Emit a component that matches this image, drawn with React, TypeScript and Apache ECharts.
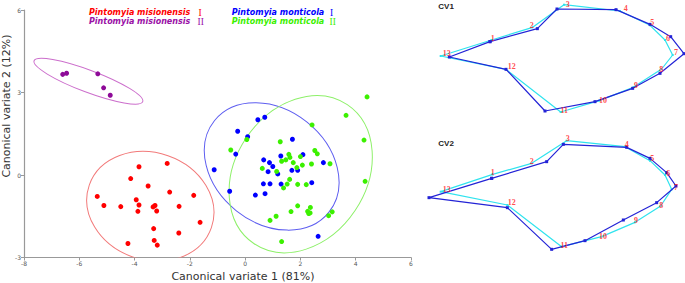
import React, { useEffect, useRef } from 'react';
import * as echarts from 'echarts';

// ---- Scatter data (canonical variate 1, canonical variate 2) ----
const redPoints = [
  [-3.84, 0.30], [-2.82, 0.42], [-4.14, -0.13], [-3.51, -0.40], [-2.73, -0.62],
  [-5.35, -0.78], [-1.86, -0.74], [-3.94, -0.90], [-5.11, -1.11], [-4.50, -1.15],
  [-3.84, -1.09], [-3.33, -1.16], [-3.26, -1.11], [-3.88, -1.32], [-3.20, -1.31],
  [-2.39, -1.14], [-1.63, -1.72], [-3.31, -1.95], [-2.40, -2.11], [-4.24, -2.49],
  [-3.29, -2.38], [-3.18, -2.55],
];
const purplePoints = [
  [-6.60, 3.66], [-6.46, 3.70], [-5.33, 3.68], [-5.12, 3.17], [-4.88, 2.90],
];
const bluePoints = [
  [0.46, 2.01], [0.71, 2.10], [-0.27, 1.59], [0.09, 1.39], [1.71, 1.30],
  [-0.34, 0.76], [2.09, 0.74], [1.29, 0.69], [0.67, 0.55], [0.88, 0.45],
  [2.83, 0.45], [-1.12, 0.19], [1.00, 0.31], [0.83, 0.12], [1.18, 0.04],
  [1.69, 0.17], [1.90, 0.17], [0.66, -0.32], [0.90, -0.32], [1.30, -0.33],
  [2.41, -0.28], [-0.56, -0.59], [0.37, -0.73], [0.72, -0.68], [2.64, -2.23],
];
const greenPoints = [
  [4.41, 2.84], [3.65, 2.17], [2.42, 1.82], [4.30, 1.27], [0.06, 1.29],
  [1.27, 1.21], [-0.52, 0.91], [2.52, 0.89], [2.61, 0.77], [1.58, 0.75],
  [1.62, 0.64], [2.00, 0.67], [1.47, 0.55], [1.32, 0.50], [1.74, 0.45],
  [2.40, 0.40], [3.07, 0.41], [2.07, 0.36], [0.62, 0.24], [1.87, 0.27],
  [1.14, 0.13], [1.61, -0.16], [1.52, -0.33], [1.39, -0.47], [1.90, -0.34],
  [2.21, -0.35], [4.34, -0.23], [1.90, -1.12], [1.66, -1.33], [2.36, -1.18],
  [2.26, -1.32], [2.30, -1.40], [2.35, -1.38], [3.15, -1.34], [3.02, -1.48],
  [1.12, -1.50], [0.90, -1.65], [1.32, -2.42],
];

// ellipse: [centre x, centre y, semi-axis a, semi-axis b, angle (deg, ccw)]
const redEllipse = [-3.43, -1.14, 2.34, 1.95, -19.2];
const purpleEllipse = [-5.67, 3.41, 2.10, 0.40, -20.6];
const blueEllipse = [0.96, 0.31, 2.65, 2.06, -38.6];
const greenEllipse = [2.01, 0.03, 3.03, 2.38, 56.2];

// ---- Shape deformation panels (landmarks 1..13, panel units) ----
const landmarkNames = ['1', '2', '3', '4', '5', '6', '7', '8', '9', '10', '11', '12', '13'];
const cv1Blue = [
  [210, 125], [352, 86], [411, 27], [588, 29], [690, 73], [752, 110], [792, 161],
  [720, 220], [638, 265], [525, 305], [375, 333], [258, 208], [88, 171],
];
const cv1Cyan = [
  [215, 120], [338, 82], [432, 14], [600, 33], [690, 76], [735, 120], [758, 165],
  [725, 207], [640, 262], [538, 302], [422, 336], [258, 208], [62, 168],
];
const cv1Labels = [
  [218, 115], [335, 75], [443, 12], [617, 26], [697, 68], [744, 114], [768, 158],
  [724, 208], [648, 257], [549, 300], [433, 330], [275, 200], [80, 160],
];
const cv2Blue = [
  [215, 145], [380, 95], [430, 43], [620, 52], [690, 85], [740, 128], [768, 168],
  [710, 218], [610, 270], [495, 332], [395, 358], [262, 233], [27, 203],
];
const cv2Cyan = [
  [218, 133], [335, 100], [440, 32], [615, 50], [690, 92], [735, 135], [755, 178],
  [722, 228], [645, 277], [545, 320], [425, 350], [262, 225], [62, 185],
];
const cv2Labels = [
  [218, 128], [335, 93], [443, 24], [620, 44], [697, 86], [745, 130], [768, 172],
  [724, 227], [648, 272], [549, 318], [433, 347], [275, 217], [80, 177],
];

const SANS = 'DejaVu Sans';

function ellipseSeries(e: number[], color: string) {
  return {
    type: 'custom',
    xAxisIndex: 0,
    yAxisIndex: 0,
    clip: true,
    silent: true,
    z: 1,
    data: [e],
    renderItem: (params: any, api: any) => {
      const c = api.coord([api.value(0), api.value(1)]);
      const s = api.size([api.value(2), api.value(3)]);
      const cs = params.coordSys;
      return {
        type: 'group',
        clipPath: { type: 'rect', shape: { x: cs.x, y: cs.y, width: cs.width, height: cs.height } },
        children: [
          {
            type: 'ellipse',
            x: c[0],
            y: c[1],
            rotation: (api.value(4) * Math.PI) / 180,
            shape: { cx: 0, cy: 0, rx: s[0], ry: s[1] },
            style: { fill: 'none', stroke: color, lineWidth: 1 },
          },
        ],
      };
    },
  };
}

function scatterSeries(pts: number[][], color: string) {
  return {
    type: 'scatter',
    xAxisIndex: 0,
    yAxisIndex: 0,
    symbolSize: 5,
    z: 3,
    silent: true,
    itemStyle: { color, opacity: 1 },
    data: pts,
  };
}

function shapeLine(pts: number[][], color: string, idx: number, size: number, z: number) {
  return {
    type: 'line',
    xAxisIndex: idx,
    yAxisIndex: idx,
    data: [...pts, pts[0]],
    symbol: 'rect',
    symbolSize: size,
    showSymbol: true,
    clip: false,
    silent: true,
    z,
    lineStyle: { color, width: 1.2 },
    itemStyle: { color },
  };
}

function labelSeries(pts: number[][], idx: number) {
  return {
    type: 'scatter',
    xAxisIndex: idx,
    yAxisIndex: idx,
    symbolSize: 0,
    silent: true,
    z: 5,
    data: pts.map((p, i) => ({ value: p, name: landmarkNames[i] })),
    label: {
      show: true,
      position: 'inside',
      formatter: '{b}',
      fontSize: 8,
      fontFamily: 'Liberation Serif',
      fontWeight: 'bold',
      color: '#ff2020',
    },
  };
}

const mainAxisCommon = {
  type: 'value',
  gridIndex: 0,
  splitLine: { show: false },
  axisLine: { show: true, onZero: false, lineStyle: { color: '#999', width: 1.2 } },
  axisTick: { show: true, length: 3, lineStyle: { color: '#999' } },
  axisLabel: { fontSize: 6, color: '#555', margin: 3, fontFamily: SANS },
};

function legendText(x: number, romanX: number, y: number, name: string, roman: string, color: string) {
  return [
    {
      type: 'text',
      x,
      y,
      style: {
        text: name,
        fontFamily: SANS,
        fontStyle: 'italic',
        fontWeight: 'bold',
        fontSize: 8,
        fill: color,
        verticalAlign: 'middle',
      },
    },
    {
      type: 'text',
      x: romanX,
      y: y + 0.3,
      style: {
        text: roman,
        fontFamily: 'Liberation Serif',
        fontSize: 9.5,
        fill: color,
        verticalAlign: 'middle',
      },
    },
  ];
}

export default function App() {
  const ref = useRef<HTMLDivElement>(null);
  useEffect(() => {
    const chart = echarts.init(ref.current!, null, { renderer: 'svg' });
    chart.setOption({
      animation: false,
      backgroundColor: '#fff',
      grid: [
        { left: 24, top: 10, width: 387, height: 247.5 },
        { left: 420, top: 0, width: 265, height: 130 },
        { left: 420, top: 130, width: 265, height: 153 },
      ],
      xAxis: [
        { ...mainAxisCommon, min: -8, max: 6, interval: 2 },
        { type: 'value', gridIndex: 1, min: 0, max: 795, show: false },
        { type: 'value', gridIndex: 2, min: 0, max: 795, show: false },
      ],
      yAxis: [
        { ...mainAxisCommon, min: -3, max: 6, interval: 3 },
        { type: 'value', gridIndex: 1, min: 0, max: 390, inverse: true, show: false },
        { type: 'value', gridIndex: 2, min: 0, max: 459, inverse: true, show: false },
      ],
      series: [
        ellipseSeries(redEllipse, '#f27a7a'),
        ellipseSeries(purpleEllipse, '#cc6fcc'),
        ellipseSeries(blueEllipse, '#5e5ef0'),
        ellipseSeries(greenEllipse, '#8ef06a'),
        scatterSeries(redPoints, '#ff0000'),
        scatterSeries(purplePoints, '#8e0a98'),
        scatterSeries(bluePoints, '#0000ff'),
        scatterSeries(greenPoints, '#3cf000'),
        shapeLine(cv1Cyan, '#2fe3ee', 1, 2, 2),
        shapeLine(cv1Blue, '#2323d6', 1, 3, 3),
        labelSeries(cv1Labels, 1),
        shapeLine(cv2Cyan, '#2fe3ee', 2, 2, 2),
        shapeLine(cv2Blue, '#2323d6', 2, 3, 3),
        labelSeries(cv2Labels, 2),
      ],
      graphic: [
        ...legendText(89, 198.5, 12.3, 'Pintomyia misionensis', 'I', '#ff0000'),
        ...legendText(89, 197.5, 21.2, 'Pintomyia misionensis', 'II', '#9a10a6'),
        ...legendText(231.7, 330, 12.3, 'Pintomyia monticola', 'I', '#0000ff'),
        ...legendText(231.7, 329.5, 21.2, 'Pintomyia monticola', 'II', '#3cf000'),
        {
          type: 'text',
          x: 243,
          y: 276.5,
          style: {
            text: 'Canonical variate 1 (81%)',
            fontFamily: SANS,
            fontSize: 11,
            fill: '#333',
            align: 'center',
            verticalAlign: 'middle',
          },
        },
        {
          type: 'text',
          x: 6.5,
          y: 106,
          rotation: Math.PI / 2,
          style: {
            text: 'Canonical variate 2 (12%)',
            fontFamily: SANS,
            fontSize: 11,
            fill: '#333',
            align: 'center',
            verticalAlign: 'middle',
          },
        },
        {
          type: 'text',
          x: 438.3,
          y: 6.2,
          style: { text: 'CV1', fontFamily: 'Liberation Sans', fontWeight: 'bold', fontSize: 8, fill: '#222', verticalAlign: 'middle' },
        },
        {
          type: 'text',
          x: 438.3,
          y: 143.7,
          style: { text: 'CV2', fontFamily: 'Liberation Sans', fontWeight: 'bold', fontSize: 8, fill: '#222', verticalAlign: 'middle' },
        },
      ],
    });
    return () => chart.dispose();
  }, []);
  return <div ref={ref} style={{ position: 'absolute', left: 0, top: 0, width: 685, height: 283 }} />;
}
